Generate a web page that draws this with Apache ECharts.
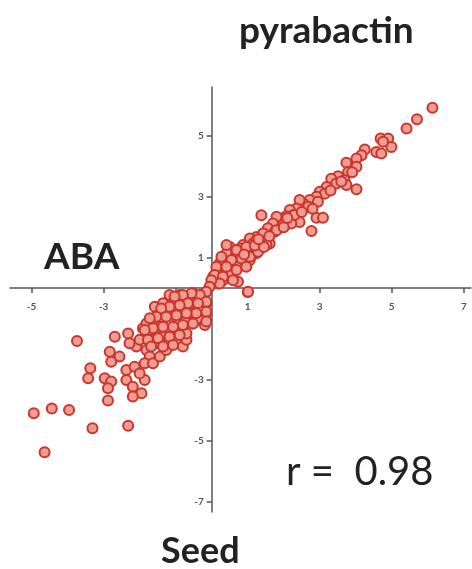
<!DOCTYPE html>
<html>
<head>
<meta charset="utf-8">
<script src="https://cdn.jsdelivr.net/npm/echarts@6/dist/echarts.min.js"></script>
<style>
  html, body { margin: 0; padding: 0; background: #fff; }
  #chart { width: 472px; height: 569px; }
</style>
</head>
<body>
<div id="chart"></div>
<script>
// ABA (x) vs pyrabactin (y), seed expression
const points = [
  [6.13, 5.92], [5.70, 5.54], [5.41, 5.24], [4.69, 4.91], [4.90, 4.91], [4.99, 4.63],
  [4.76, 4.80], [4.57, 4.47], [4.71, 4.42], [4.25, 4.55], [4.16, 4.36], [4.02, 4.25],
  [3.74, 4.11], [4.02, 3.98], [3.79, 3.81], [3.51, 3.67], [3.32, 3.59], [3.69, 3.54],
  [3.46, 3.43], [3.74, 3.38], [4.02, 3.24], [3.19, 3.32], [3.00, 3.16], [3.14, 3.10],
  [2.91, 3.00], [2.72, 2.89], [2.95, 2.83], [2.54, 2.78], [2.44, 2.89], [2.68, 2.67],
  [2.35, 2.61], [2.17, 2.56], [2.26, 2.39], [2.07, 2.36], [1.94, 2.28], [1.80, 2.34],
  [1.38, 2.39], [2.91, 2.31], [3.09, 2.31], [2.77, 1.87], [2.44, 2.17], [2.21, 2.12],
  [1.98, 2.07], [1.70, 2.12], [1.56, 1.96], [1.75, 1.85], [1.43, 1.79], [1.24, 1.68],
  [1.06, 1.63], [1.38, 1.57], [1.15, 1.46], [1.61, 1.46], [0.87, 1.41], [0.78, 1.30],
  [0.50, 1.35], [0.96, 1.25], [1.24, 1.14], [0.64, 1.08], [0.41, 1.14], [0.87, 0.97],
  [1.06, 0.92], [0.50, 0.86], [0.22, 0.81], [0.69, 0.70], [0.36, 0.59], [0.13, 0.53],
  [0.55, 0.43], [0.04, 0.37], [0.31, 0.26], [0.73, 0.21], [0.18, 0.15], [1.00, -0.13],
  [0.41, 1.41], [0.69, 1.25], [0.96, 1.35], [1.24, 1.57], [1.43, 1.79], [0.27, 1.03],
  [0.55, 0.92], [0.83, 0.97], [1.06, 1.03], [1.29, 1.19], [1.52, 1.41], [0.13, 0.70],
  [0.41, 0.70], [0.69, 0.59], [0.96, 0.70], [0.08, 0.43], [0.31, 0.37], [0.59, 0.26],
  [0.22, 0.15], [-0.01, 0.26], [1.01, -0.12], [1.80, 1.90], [2.00, 2.00], [2.30, 2.40],
  [2.50, 2.50], [1.60, 1.70], [1.20, 1.40], [2.80, 2.60], [3.30, 3.20], [3.60, 3.50],
  [3.90, 3.80], [2.10, 2.30], [1.45, 1.35], [0.90, 1.10], [1.30, 1.60],
  [-4.64, -5.39], [-4.94, -4.11], [-4.44, -3.95], [-3.96, -4.00], [-3.31, -4.60],
  [-2.32, -4.52], [-3.74, -1.74], [-2.88, -3.69], [-3.43, -2.96], [-3.37, -2.63],
  [-2.97, -2.96], [-2.79, -3.07], [-2.88, -3.29], [-2.69, -1.60], [-2.32, -1.49],
  [-2.83, -2.09], [-2.56, -2.25], [-2.79, -2.42], [-2.37, -2.69], [-2.14, -2.58],
  [-2.37, -3.02], [-2.19, -3.24], [-1.95, -3.45], [-2.19, -3.56], [-1.86, -3.02],
  [-2.00, -2.80], [-2.09, -1.92], [-2.28, -1.81], [-2.00, -1.70], [-1.81, -2.03],
  [-1.72, -2.25], [-1.86, -2.47], [-1.63, -2.47], [-1.44, -2.25], [-1.26, -2.03],
  [-1.54, -1.81], [-1.72, -1.60], [-1.91, -1.32], [-1.58, -0.61], [-1.81, -1.16],
  [-1.63, -1.05], [-1.44, -1.27], [-1.26, -0.94], [-1.07, -0.72], [-1.35, -0.50],
  [-0.98, -0.39], [-1.17, -1.49], [-0.98, -1.70], [-0.80, -1.92], [-0.70, -1.70],
  [-0.84, -1.38], [-0.98, -1.16], [-0.70, -1.05], [-0.80, -0.78], [-0.61, -0.83],
  [-0.52, -1.16], [-0.33, -0.99], [-0.19, -1.21], [-0.15, -0.83], [-0.52, -0.50],
  [-0.70, -0.39], [-0.33, -0.39], [-0.15, -0.50], [-1.17, -0.23], [-0.89, -0.23],
  [-0.52, -0.17], [-0.19, -0.17], [-0.06, 0.04], [-0.70, -0.67], [-1.35, -1.60],
  [-1.49, -0.89], [-1.68, -1.38], [-1.21, -1.81], [-0.70, -1.49],
  [-0.15, -0.12], [-0.33, -0.23], [-0.56, -0.17], [-0.80, -0.23], [-1.03, -0.28],
  [-0.15, -0.45], [-0.38, -0.50], [-0.66, -0.50], [-0.89, -0.56], [-1.17, -0.61],
  [-1.40, -0.67], [-0.15, -0.78], [-0.43, -0.83], [-0.70, -0.83], [-0.98, -0.89],
  [-1.26, -0.94], [-1.54, -0.94], [-1.72, -0.99], [-0.15, -1.10], [-0.52, -1.16],
  [-0.80, -1.21], [-1.07, -1.27], [-1.35, -1.27], [-1.63, -1.32], [-1.86, -1.38],
  [-0.89, -1.54], [-1.17, -1.60], [-1.49, -1.65], [-1.77, -1.70], [-1.07, -1.87],
  [-1.35, -1.92], [-1.68, -1.92]
];
const tickValues = [-7, -5, -3, -1, 1, 3, 5, 7];

const xMin = -5.6, xMax = 7.2, yMin = -7.35, yMax = 6.6;
const gridLeft = 10, gridRight = 1, gridTop = 87, gridBottom = 57;
const W = 472, H = 569;
// shift the axes from the grid edges onto the zero lines
const xShift = (H - gridTop - gridBottom) * (0 - yMin) / (yMax - yMin);
const yShift = (W - gridLeft - gridRight) * (0 - xMin) / (xMax - xMin);

const chart = echarts.init(document.getElementById('chart'));
const axisBase = {
  type: 'value',
  splitLine: { show: false },
  axisLine: { onZero: false, lineStyle: { color: '#555', width: 1.5 } },
  axisTick: { customValues: tickValues, length: 5, lineStyle: { color: '#555', width: 1.5 } },
  axisLabel: { customValues: tickValues, color: '#555', fontSize: 10, fontWeight: 'bold', fontFamily: 'Lato' }
};
chart.setOption({
  animation: false,
  grid: { left: gridLeft, right: gridRight, top: gridTop, bottom: gridBottom },
  xAxis: Object.assign({}, axisBase, {
    min: xMin, max: xMax, position: 'bottom', offset: -xShift,
    axisLabel: Object.assign({}, axisBase.axisLabel, { margin: 14 })
  }),
  yAxis: Object.assign({}, axisBase, { min: yMin, max: yMax, position: 'left', offset: -yShift }),
  series: [{
    type: 'scatter',
    data: points,
    symbolSize: 10,
    itemStyle: { color: '#ef9c92', borderColor: '#c9362d', borderWidth: 2, opacity: 1 }
  }],
  graphic: [
    { type: 'text', left: 239, top: 13, style: { text: 'pyrabactin', font: 'bold 37px Lato', fill: '#222' } },
    { type: 'text', left: 44, top: 239, style: { text: 'ABA', font: 'bold 37px Lato', fill: '#222' } },
    { type: 'text', left: 161, top: 533, style: { text: 'Seed', font: 'bold 36px Lato', fill: '#222' } },
    { type: 'text', left: 286, top: 452, style: { text: 'r =  0.98', font: '40px Lato', fill: '#222' } }
  ]
});
</script>
</body>
</html>
